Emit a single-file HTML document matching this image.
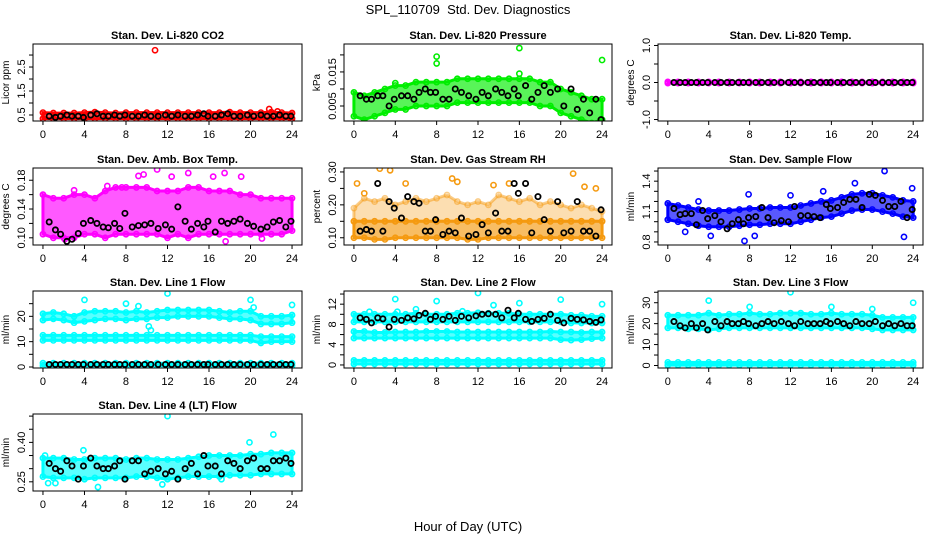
<!DOCTYPE html>
<html><head><meta charset="utf-8">
<style>
html,body{margin:0;padding:0;background:#fff;}
svg{display:block;font-family:"Liberation Sans",sans-serif;}
</style></head>
<body>
<svg id="chart" width="936" height="540" viewBox="0 0 936 540" xmlns="http://www.w3.org/2000/svg">
<text x="468" y="14" text-anchor="middle" font-size="13">SPL_110709&#160; Std. Dev. Diagnostics</text>
<text x="468" y="531" text-anchor="middle" font-size="13">Hour of Day (UTC)</text>
</svg>
<script>
const hours = [0,1,2,3,4,5,6,7,8,9,10,11,12,13,14,15,16,17,18,19,20,21,22,23,24];
const xTicks = [0,4,8,12,16,20,24];
const bx = [0.6,1.2,1.7,2.3,2.8,3.4,3.9,4.6,5.2,5.8,6.3,6.9,7.4,7.9,8.6,9.2,9.8,10.4,11.1,11.8,12.4,13.0,13.7,14.3,14.9,15.5,15.9,16.6,17.2,17.8,18.4,19.0,19.7,20.3,21.0,21.6,22.2,22.8,23.4,23.9];

// Panel 1: CO2
const co2Lo = [.35,.35,.35,.35,.35,.35,.35,.35,.35,.35,.35,.35,.35,.35,.35,.35,.35,.35,.35,.35,.35,.35,.35,.35,.35];
const co2Hi = [.6,.58,.58,.58,.6,.62,.6,.58,.6,.6,.6,.6,.6,.6,.6,.6,.6,.6,.62,.6,.6,.6,.62,.6,.58];
const co2OutX = [10.8,21.8,22.6,23.9];
const co2OutY = [3.2,0.75,0.65,0.25];
const co2Black = [.45,.4,.45,.5,.45,.45,.4,.5,.55,.45,.45,.5,.45,.5,.45,.45,.5,.45,.45,.5,.45,.5,.45,.45,.5,.55,.45,.45,.5,.55,.45,.45,.5,.45,.5,.45,.45,.5,.45,.45];
// Panel 2: pressure
const prLo = [.002,.001,.002,.003,.004,.004,.005,.005,.005,.005,.006,.006,.006,.006,.006,.006,.006,.006,.005,.005,.003,.002,.001,.000,.001];
const prHi = [.009,.008,.009,.010,.011,.011,.012,.012,.012,.012,.013,.013,.013,.013,.013,.013,.013,.013,.012,.012,.010,.009,.008,.007,.007];
const prOutX = [8,8,16,16,4,24];
const prOutY = [.0195,.0175,.022,.0145,.0117,.0185];
const prBlack = [.008,.007,.007,.008,.008,.005,.007,.008,.008,.007,.009,.010,.009,.009,.007,.007,.010,.009,.008,.007,.009,.008,.010,.009,.008,.010,.008,.011,.007,.009,.011,.009,.010,.005,.010,.004,.007,.003,.007,.001];
// Panel 3: Li-820 temp
const tLo = [-.015,-.015,-.015,-.015,-.015,-.015,-.015,-.015,-.015,-.015,-.015,-.015,-.015,-.015,-.015,-.015,-.015,-.015,-.015,-.015,-.015,-.015,-.015,-.015,-.015];
const tHi = [.015,.015,.015,.015,.015,.015,.015,.015,.015,.015,.015,.015,.015,.015,.015,.015,.015,.015,.015,.015,.015,.015,.015,.015,.015];
const tBlack = [0,0,0,0,0,0,0,0,0,0,0,0,0,0,0,0,0,0,0,0,0,0,0,0,0,0,0,0,0,0,0,0,0,0,0,0,0,0,0,0];
// Panel 4: amb box temp
const abLo = [.105,.10,.10,.10,.105,.105,.10,.105,.105,.105,.105,.105,.10,.105,.10,.105,.105,.105,.105,.105,.105,.105,.105,.105,.11];
const abHi = [.16,.155,.155,.16,.16,.155,.165,.17,.17,.17,.17,.165,.165,.165,.17,.17,.165,.165,.165,.16,.16,.155,.155,.155,.155];
const abOutX = [9.2,9.7,11,12.4,14,17.5,16.4,19.1,7.6,17.6,21.1,2.1,3,6.2];
const abOutY = [.186,.188,.195,.185,.19,.19,.185,.185,.17,.095,.099,.098,.166,.172];
const abBlack = [.122,.111,.105,.095,.098,.106,.12,.124,.12,.115,.114,.12,.113,.134,.115,.117,.118,.12,.113,.118,.112,.143,.123,.112,.12,.115,.123,.108,.123,.12,.123,.126,.12,.116,.112,.115,.122,.124,.115,.123];
// Panel 5: RH
const rhLo = [.10,.10,.095,.095,.10,.10,.10,.10,.10,.10,.10,.095,.095,.10,.10,.10,.10,.10,.10,.10,.10,.10,.10,.10,.10];
const rhHi = [.15,.15,.15,.15,.15,.15,.15,.15,.15,.15,.15,.15,.15,.15,.15,.15,.15,.15,.15,.15,.15,.15,.15,.15,.15];
const rhUpLo = [.15,.15,.15,.15,.15,.15,.15,.15,.15,.15,.15,.15,.15,.15,.15,.15,.15,.15,.15,.15,.15,.15,.15,.15,.15];
const rhUpHi = [.19,.22,.21,.22,.20,.21,.22,.21,.22,.23,.21,.20,.21,.20,.23,.22,.21,.22,.20,.21,.20,.19,.20,.19,.18];
const rhOutX = [0.3,2.5,3.5,5,9.5,10,15,21.2,22.3,23.4,1,13.5];
const rhOutY = [.265,.31,.305,.265,.28,.27,.265,.295,.255,.25,.235,.26];
const rhBlack = [.12,.125,.12,.265,.12,.21,.19,.16,.225,.21,.205,.12,.12,.155,.11,.12,.115,.16,.105,.11,.14,.115,.175,.12,.12,.265,.235,.265,.115,.225,.155,.12,.21,.115,.12,.21,.12,.12,.105,.185];
// Panel 6: sample flow
const sfLo = [1.02,1.0,.98,.96,.95,.95,.95,.96,.97,.97,.98,.98,.98,1.0,1.02,1.04,1.05,1.08,1.11,1.12,1.12,1.10,1.08,1.05,1.04];
const sfHi = [1.18,1.16,1.14,1.12,1.11,1.11,1.11,1.12,1.13,1.13,1.14,1.14,1.14,1.16,1.18,1.20,1.21,1.24,1.27,1.28,1.28,1.26,1.24,1.21,1.20];
const sfOutX = [7.5,4.2,8.5,18.3,21.2,23.1,23.9,12,1.7,7.9,3,15.2];
const sfOutY = [.81,.86,.86,1.38,1.5,.85,1.33,1.26,.9,1.27,1.2,1.3];
const sfBlack = [1.13,1.07,1.08,1.08,0.97,1.11,1.03,1.06,1.00,0.93,0.98,1.02,0.98,1.04,1.05,1.14,1.04,0.99,1.01,1.00,1.15,1.06,1.06,1.05,1.04,1.17,1.13,1.14,1.19,1.22,1.22,1.14,1.27,1.26,1.21,1.15,1.15,1.20,1.04,1.12];
// Panel 7: line 1
const l1ALo = [18.5,19,18.5,17.5,18,18.5,19,19,18.5,19,19,19.5,19.5,20,20,20,20,19.5,19,19,18.5,17,17,17,17.5];
const l1AHi = [21,21.5,21,20,21.5,22,22,22,21.5,22,21.5,22,22.5,22.5,22.5,22.5,22.5,22,21.5,22,22,20,20,20,20.5];
const l1BLo = [10.5,10.5,10.5,10.5,10.5,10.5,10.5,10.5,10.5,10.5,10.5,10.5,10.5,10.5,10.5,10.5,10.5,10.5,10.5,10.5,10.5,9.5,10,10,10];
const l1BHi = [12.5,12.5,12.5,12.5,12.5,12.5,12.5,12.5,12.5,12.5,12.5,12.5,12.5,12.5,12.5,12.5,12.5,12.5,12.5,12.5,12.5,12,12,12,12];
const l1CLo = [.5,.5,.5,.5,.5,.5,.5,.5,.5,.5,.5,.5,.5,.5,.5,.5,.5,.5,.5,.5,.5,.5,.5,.5,.5];
const l1CHi = [1.5,1.5,1.5,1.5,1.5,1.5,1.5,1.5,1.5,1.5,1.5,1.5,1.5,1.5,1.5,1.5,1.5,1.5,1.5,1.5,1.5,1.5,1.5,1.5,1.5];
const l1OutX = [4,8,12,20,24,10.2,10.4,9.2,20.3];
const l1OutY = [26.5,25,29,26.5,24.5,16,14.5,24,23.5];
const l1Black = [1,1,1,1,1,1,1,1,1,1,1,1,1,1,1,1,1,1,1,1,1,1,1,1,1,1,1,1,1,1,1,1,1,1,1,1,1,1,1,1];
// Panel 8: line 2
const l2ALo = [8.5,8.5,8.5,8.5,8.5,8.5,8.5,8.5,8.5,8.5,8.5,8.5,8.5,8.5,8.5,8.5,8.5,8.5,8.5,8.5,8.5,8.3,8.3,8.3,8.3];
const l2AHi = [10,10,10,10,10,10,10.2,10,10,10,10.2,10.2,10.3,10.2,10.2,10.2,10,10,10,10,10,9.8,9.8,9.6,9.6];
const l2BLo = [5.3,5.3,5.3,5.3,5.3,5.3,5.3,5.3,5.3,5.3,5.3,5.3,5.3,5.3,5.3,5.3,5.3,5.3,5.3,5.3,5,4.9,5,5.2,5.3];
const l2BHi = [6.6,6.6,6.4,6.4,6.5,6.5,6.5,6.6,6.6,6.6,6.5,6.5,6.5,6.5,6.5,6.5,6.5,6.5,6.5,6.6,6.5,6.5,6.4,6.5,6.5];
const l2CLo = [.2,.2,.2,.2,.2,.2,.2,.2,.2,.2,.2,.2,.2,.2,.2,.2,.2,.2,.2,.2,.2,.2,.2,.2,.2];
const l2CHi = [.9,.9,.9,.9,.9,.9,.9,.9,.9,.9,.9,.9,.9,.9,.9,.9,.9,.9,.9,.9,.9,.9,.9,.9,.9];
const l2OutX = [4,8,12,16,20,24,1.5,6,13.5,4.2,10.5];
const l2OutY = [13,12.6,14.2,12.2,12.9,12,10.5,11,11.8,10.5,10.6];
const l2Black = [9.3,9.0,8.3,9.3,9.1,7.5,9.0,8.8,9.3,9.1,9.8,10.2,9.0,9.6,9.0,9.6,8.8,9.6,9.3,9.7,10.0,10.1,10.0,9.3,10.8,9.3,10.2,9.0,8.6,9.0,9.2,10.0,8.8,8.3,9.2,9.0,8.9,8.6,8.4,8.9];
// Panel 9: line 3
const l3ALo = [18,18,17.5,17.5,17,17.5,18,18,18,18,18,18,18,18,18,18,18,18,18,18,17.5,17,17,17,17];
const l3AHi = [24,24,24,24,25,24,24.5,24.5,25,24.5,24.5,25,25,25,24.5,24.5,25,24.5,24.5,24.5,24,23,23,23,23];
const l3CLo = [.2,.2,.2,.2,.2,.2,.2,.2,.2,.2,.2,.2,.2,.2,.2,.2,.2,.2,.2,.2,.2,.2,.2,.2,.2];
const l3CHi = [1.5,1.5,1.5,1.5,1.5,1.5,1.5,1.5,1.5,1.5,1.5,1.5,1.5,1.5,1.5,1.5,1.5,1.5,1.5,1.5,1.5,1.5,1.5,1.5,1.5];
const l3OutX = [4,12,24,8,16,20];
const l3OutY = [31,35,30,28,28,27];
const l3Black = [21,19,18,20,18,20,17,21,19,21,20,20,21,20,19,20,21,20,21,20,19,21,20,20,20,21,20,21,20,19,21,20,20,21,19,20,19,20,19,19];
// Panel 10: line 4
const l4Lo = [.27,.265,.265,.265,.26,.265,.265,.265,.265,.27,.27,.265,.26,.265,.27,.27,.27,.27,.275,.275,.275,.28,.28,.28,.28];
const l4Hi = [.34,.34,.34,.335,.335,.34,.34,.34,.335,.34,.34,.335,.335,.335,.34,.345,.35,.35,.35,.35,.355,.355,.36,.36,.36];
const l4OutX = [12,22.2,19.9,3.9,0.2,5.3,0.5,1.2,11.5,17.2];
const l4OutY = [.50,.43,.40,.37,.35,.23,.245,.245,.24,.26];
const l4Black = [.32,.30,.29,.33,.31,.26,.31,.34,.31,.30,.30,.31,.33,.26,.33,.33,.28,.29,.30,.28,.29,.26,.30,.32,.28,.35,.31,.31,.28,.33,.32,.30,.33,.34,.30,.30,.33,.33,.34,.32];

const NS = "http://www.w3.org/2000/svg";
const svg = document.getElementById('chart');
function mk(tag, attrs, parent){ const e=document.createElementNS(NS,tag); for(const k in attrs) e.setAttribute(k,attrs[k]); (parent||svg).appendChild(e); return e; }

const cols = [[33,302],[344,612],[658,923]];
const rows = [[44,121],[168,245],[291,368],[414,491]];

const panels = [
 {name:'co2',title:'Stan. Dev. Li-820 CO2',ylab:'Licor ppm',c:0,r:0,ymin:0.25,ymax:3.46,ticks:[0.5,1,1.5,2,2.5,3],labels:['0.5','1.5','2.5'],labVals:[0.5,1.5,2.5],color:'#ff0000',
  bands:[[co2Lo,co2Hi,1]],outX:co2OutX,outY:co2OutY,black:co2Black},
 {name:'pressure',title:'Stan. Dev. Li-820 Pressure',ylab:'kPa',c:1,r:0,ymin:0.0006,ymax:0.0232,ticks:[0.005,0.01,0.015,0.02],labels:['0.005','0.015'],labVals:[0.005,0.015],color:'#00ee00',
  bands:[[prLo,prHi,1]],outX:prOutX,outY:prOutY,black:prBlack},
 {name:'li820-temp',title:'Stan. Dev. Li-820 Temp.',ylab:'degrees C',c:2,r:0,ymin:-1.04,ymax:1.04,ticks:[-1,-0.5,0,0.5,1],labels:['-1.0','0.0','1.0'],labVals:[-1,0,1],color:'#ff00ff',
  bands:[[tLo,tHi,1]],outX:[],outY:[],black:tBlack},
 {name:'amb-box-temp',title:'Stan. Dev. Amb. Box Temp.',ylab:'degrees C',c:0,r:1,ymin:0.09,ymax:0.197,ticks:[0.1,0.12,0.14,0.16,0.18],labels:['0.10','0.14','0.18'],labVals:[0.1,0.14,0.18],color:'#ff00ff',
  bands:[[abLo,abHi,1]],outX:abOutX,outY:abOutY,black:abBlack},
 {name:'gas-rh',title:'Stan. Dev. Gas Stream RH',ylab:'percent',c:1,r:1,ymin:0.078,ymax:0.312,ticks:[0.1,0.15,0.2,0.25,0.3],labels:['0.10','0.20','0.30'],labVals:[0.1,0.2,0.3],color:'#f59a10',
  bands:[[rhLo,rhHi,1],[rhUpLo,rhUpHi,0.5]],outX:rhOutX,outY:rhOutY,black:rhBlack},
 {name:'sample-flow',title:'Stan. Dev. Sample Flow',ylab:'ml/min',c:2,r:1,ymin:0.77,ymax:1.53,ticks:[0.8,0.9,1.0,1.1,1.2,1.3,1.4,1.5],labels:['0.8','1.1','1.4'],labVals:[0.8,1.1,1.4],color:'#0000ff',
  bands:[[sfLo,sfHi,1]],outX:sfOutX,outY:sfOutY,black:sfBlack},
 {name:'line1-flow',title:'Stan. Dev. Line 1 Flow',ylab:'ml/min',c:0,r:2,ymin:-0.4,ymax:30,ticks:[0,5,10,15,20,25],labels:['0','10','20'],labVals:[0,10,20],color:'#00ffff',
  bands:[[l1ALo,l1AHi,1],[l1BLo,l1BHi,1],[l1CLo,l1CHi,1]],outX:l1OutX,outY:l1OutY,black:l1Black},
 {name:'line2-flow',title:'Stan. Dev. Line 2 Flow',ylab:'ml/min',c:1,r:2,ymin:-0.6,ymax:14.6,ticks:[0,2,4,6,8,10,12,14],labels:['0','4','8','12'],labVals:[0,4,8,12],color:'#00ffff',
  bands:[[l2ALo,l2AHi,1],[l2BLo,l2BHi,1],[l2CLo,l2CHi,1]],outX:l2OutX,outY:l2OutY,black:l2Black},
 {name:'line3-flow',title:'Stan. Dev. Line 3 Flow',ylab:'ml/min',c:2,r:2,ymin:-1.2,ymax:35.6,ticks:[0,5,10,15,20,25,30,35],labels:['0','10','20','30'],labVals:[0,10,20,30],color:'#00ffff',
  bands:[[l3ALo,l3AHi,1],[l3CLo,l3CHi,1]],outX:l3OutX,outY:l3OutY,black:l3Black},
 {name:'line4-flow',title:'Stan. Dev. Line 4 (LT) Flow',ylab:'ml/min',c:0,r:3,ymin:0.215,ymax:0.508,ticks:[0.25,0.3,0.35,0.4,0.45,0.5],labels:['0.25','0.40'],labVals:[0.25,0.4],color:'#00ffff',
  bands:[[l4Lo,l4Hi,1]],outX:l4OutX,outY:l4OutY,black:l4Black}
];

panels.forEach(p=>{
  const [L,R]=cols[p.c], [T,B]=rows[p.r];
  const xs = h => L + (h+0.96)/25.92*(R-L);
  const ys = v => B - (v-p.ymin)/(p.ymax-p.ymin)*(B-T);
  const g = mk('g',{});
  
  
  const defs = mk('clipPath',{id:'clip-'+p.name},g);
  mk('rect',{x:L,y:T,width:R-L,height:B-T},defs);
  const plot = mk('g',{'clip-path':'url(#clip-'+p.name+')'},g);
  p.bands.forEach((b,bi)=>{
    const [lo,hi,op]=b;
    let d='M'+hours.map((h,i)=>xs(h)+','+ys(hi[i])).join(' L');
    d+=' L'+hours.slice().reverse().map((h,k)=>{const i=hours.length-1-k;return xs(h)+','+ys(lo[i]);}).join(' L')+' Z';
    const poly = mk('path',{d:d,fill:p.color,'fill-opacity':op*0.65,stroke:p.color,'stroke-width':3,'stroke-opacity':op},plot);
    
    
    hours.forEach((h,i)=>{
      [lo[i],hi[i]].forEach(v=>{
        const c = mk('circle',{cx:xs(h),cy:ys(v),r:2.6,fill:'none',stroke:p.color,'stroke-width':1.6,'stroke-opacity':op},plot);
        
        
      });
    });
  });
  p.outX.forEach((x,i)=>{
    const c = mk('circle',{cx:xs(x),cy:ys(p.outY[i]),r:2.6,fill:'none',stroke:p.color,'stroke-width':1.6},plot);
    
    
  });
  bx.forEach((x,i)=>{
    const c = mk('circle',{cx:xs(x),cy:ys(p.black[i]),r:2.6,fill:'none',stroke:'#000','stroke-width':1.8},plot);
    
    
  });
  const box = mk('rect',{x:L,y:T,width:R-L,height:B-T,fill:'none',stroke:'#000','stroke-width':1},g);
  
  
  mk('line',{x1:xs(0),x2:xs(24),y1:B,y2:B,stroke:'#000'},g);
  xTicks.forEach(t=>{
    mk('line',{x1:xs(t),x2:xs(t),y1:B,y2:B+4,stroke:'#000'},g);
    const tx = mk('text',{x:xs(t),y:B+17,'text-anchor':'middle','font-size':11},g);
    
    
    tx.textContent=t;
  });
  p.ticks.forEach(t=>{ mk('line',{x1:L-4,x2:L,y1:ys(t),y2:ys(t),stroke:'#000'},g); });
  p.labels.forEach((lab,i)=>{
    const y=ys(p.labVals[i]);
    const tx = mk('text',{x:L-8,y:y,'text-anchor':'middle','font-size':11,transform:'rotate(-90 '+(L-8)+' '+y+')'},g);
    
    
    tx.textContent=lab;
  });
  const yl = mk('text',{x:L-24,y:(T+B)/2,'text-anchor':'middle','font-size':10,transform:'rotate(-90 '+(L-24)+' '+((T+B)/2)+')'},g);
  
  
  yl.textContent=p.ylab;
  const tt = mk('text',{x:(L+R)/2,y:T-5,'text-anchor':'middle','font-size':11,'font-weight':'bold'},g);
  
  
  tt.textContent=p.title;
});
</script>
</body></html>
